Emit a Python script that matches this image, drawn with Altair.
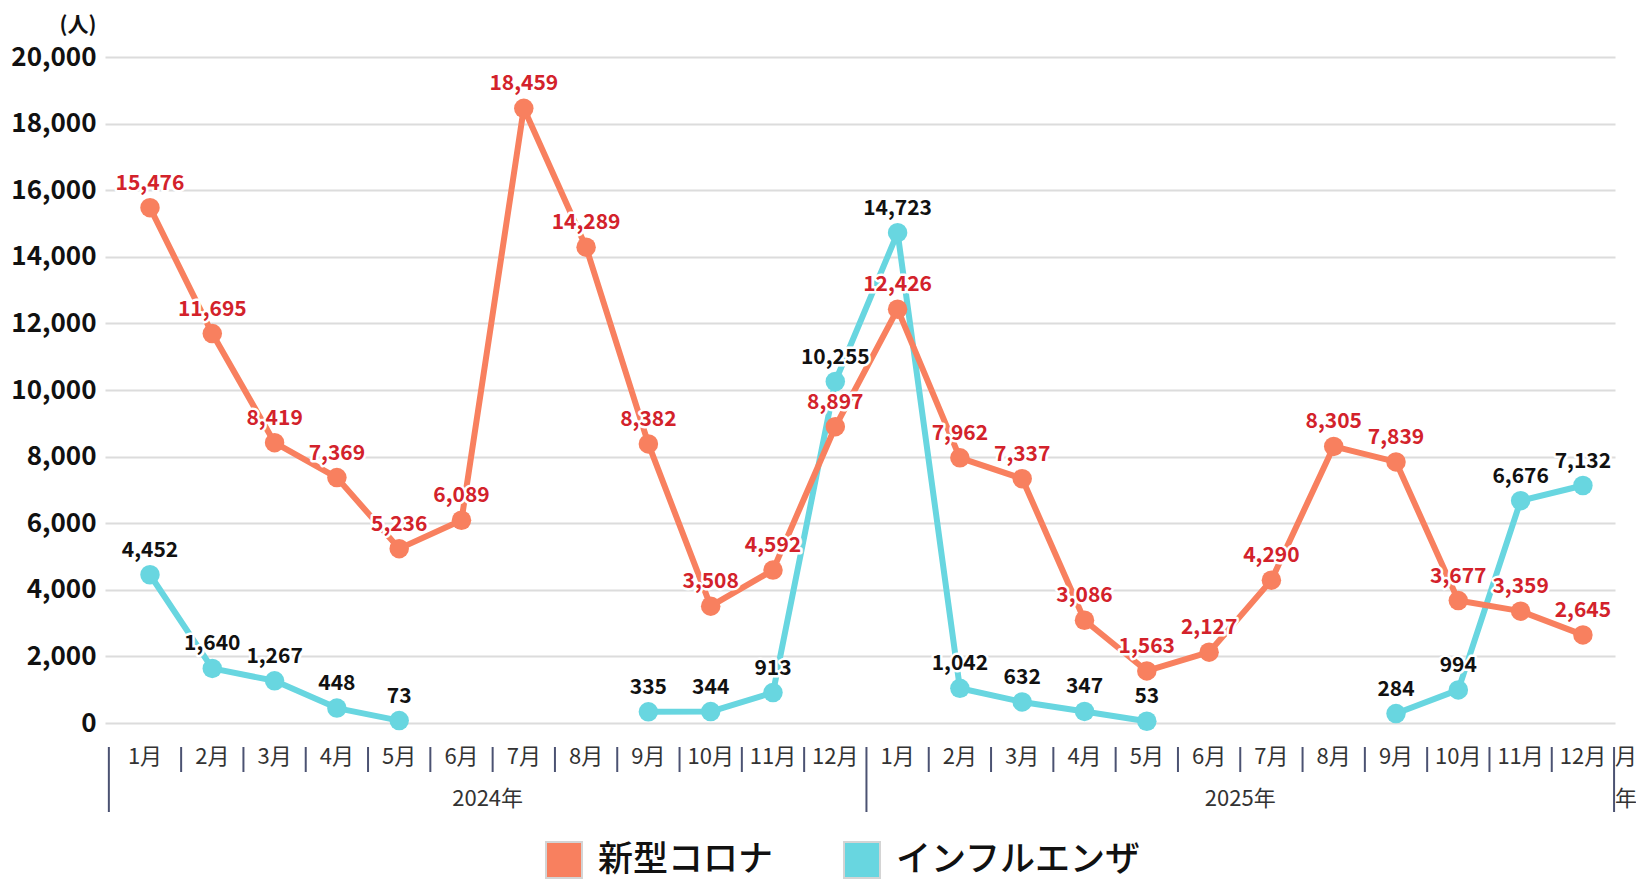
import altair as alt
import pandas as pd

FONT = "Noto Sans CJK JP"

COVID = "新型コロナ"
FLU = "インフルエンザ"

month_names = ["1月", "2月", "3月", "4月", "5月", "6月", "7月", "8月", "9月", "10月", "11月", "12月"]
years = ["2024年", "2025年"]

covid = [15476, 11695, 8419, 7369, 5236, 6089, 18459, 14289, 8382, 3508, 4592, 8897,
         12426, 7962, 7337, 3086, 1563, 2127, 4290, 8305, 7839, 3677, 3359, 2645]
flu = [4452, 1640, 1267, 448, 73, None, None, None, 335, 344, 913, 10255,
       14723, 1042, 632, 347, 53, None, None, None, 284, 994, 6676, 7132]

y_ticks = list(range(0, 20001, 2000))

COL_COVID = "#F8805F"
COL_FLU = "#68D6E0"
COL_COVID_TXT = "#D3222B"
COL_FLU_TXT = "#111111"
COL_SEP = "#4B5272"

# ---------- data frames ----------
rows = []
for name, vals, tag in [(FLU, flu, "f"), (COVID, covid, "c")]:
    seg = 0
    prev_none = False
    for i, v in enumerate(vals):
        if v is None:
            prev_none = True
            continue
        if prev_none:
            seg += 1
            prev_none = False
        rows.append({"idx": i, "value": v, "series": name, "seg": f"{tag}{seg}",
                     "label": f"{v:,}"})
df = pd.DataFrame(rows)

# month boundaries (in month-index units)
bounds = [-0.66] + [i + 0.5 for i in range(24)]
long_bounds = [-0.66, 11.5, 23.5]
df_sep = pd.DataFrame({"pos": bounds, "long": [b in long_bounds for b in bounds]})

all_months = month_names * 2
df_months = pd.DataFrame({
    "cx": [(bounds[i] + bounds[i + 1]) / 2 for i in range(24)] + [23.69],
    "label": all_months + ["月"],
})
df_years = pd.DataFrame({
    "cx": [(long_bounds[0] + long_bounds[1]) / 2, (long_bounds[1] + long_bounds[2]) / 2, 23.69],
    "label": years + ["年"],
})

# ---------- encodings ----------
xscale = alt.Scale(domain=[-0.722, 23.515], nice=False, zero=False)
x_enc = alt.X("idx:Q", scale=xscale, axis=None)
y_enc = alt.Y(
    "value:Q",
    scale=alt.Scale(domain=[0, 20000], nice=False),
    axis=alt.Axis(
        values=y_ticks, format=",d", grid=True, gridColor="#dcdcdc", gridWidth=2,
        domain=False, ticks=False, labelFont=FONT, labelFontSize=26,
        labelFontWeight="bold", labelColor="#111111", labelPadding=9,
        title="(人)", titleAngle=0, titleAlign="right", titleBaseline="middle",
        titleX=-9, titleY=-32, titleFont=FONT, titleFontSize=21,
        titleFontWeight="bold", titleColor="#111111",
    ),
)

base = alt.Chart(df)

line_flu = base.transform_filter(alt.datum.series == FLU).mark_line(
    color=COL_FLU, strokeWidth=6, strokeJoin="round", strokeCap="round"
).encode(x=x_enc, y=y_enc, detail="seg:N")

line_covid = base.transform_filter(alt.datum.series == COVID).mark_line(
    color=COL_COVID, strokeWidth=6, strokeJoin="round", strokeCap="round"
).encode(x=x_enc, y=y_enc, detail="seg:N")

points = base.mark_circle(size=380, opacity=1).encode(
    x=x_enc, y=y_enc,
    color=alt.Color(
        "series:N",
        scale=alt.Scale(domain=[COVID, FLU], range=[COL_COVID, COL_FLU]),
        legend=alt.Legend(
            orient="none", legendX=440, legendY=784, direction="horizontal",
            title=None, symbolType="square", symbolSize=1296,
            symbolStrokeColor="#d4d4d4", symbolStrokeWidth=2, symbolOpacity=1,
            labelFont=FONT, labelFontSize=35, labelFontWeight=500,
            labelColor="#111111", labelOffset=15, columnPadding=66,
            labelLimit=500,
        ),
    ),
)

def labels(series, color):
    src = base.transform_filter(alt.datum.series == series)
    halo = src.mark_text(
        font=FONT, fontSize=21, fontWeight="bold", dy=-24, baseline="middle",
        stroke="white", strokeWidth=5, strokeJoin="round", color="white",
    ).encode(x=x_enc, y=y_enc, text="label:N")
    txt = src.mark_text(
        font=FONT, fontSize=21, fontWeight="bold", dy=-24, baseline="middle",
        color=color,
    ).encode(x=x_enc, y=y_enc, text="label:N")
    return halo, txt

flu_halo, flu_txt = labels(FLU, COL_FLU_TXT)
cov_halo, cov_txt = labels(COVID, COL_COVID_TXT)

sep_base = alt.Chart(df_sep)
sep_short = sep_base.transform_filter(~alt.datum.long).mark_rule(
    color=COL_SEP, strokeWidth=2
).encode(x=alt.X("pos:Q", scale=xscale, axis=None), y=alt.value(690), y2=alt.value(715))
sep_long = sep_base.transform_filter(alt.datum.long).mark_rule(
    color=COL_SEP, strokeWidth=2
).encode(x=alt.X("pos:Q", scale=xscale, axis=None), y=alt.value(690), y2=alt.value(755))

month_txt = alt.Chart(df_months).mark_text(
    font=FONT, fontSize=22, color="#333333", baseline="middle"
).encode(x=alt.X("cx:Q", scale=xscale, axis=None), y=alt.value(700), text="label:N")

year_txt = alt.Chart(df_years).mark_text(
    font=FONT, fontSize=22, color="#333333", baseline="middle"
).encode(x=alt.X("cx:Q", scale=xscale, axis=None), y=alt.value(742), text="label:N")

chart = alt.layer(
    sep_short, sep_long, month_txt, year_txt,
    line_flu, line_covid, points,
    flu_halo, cov_halo, flu_txt, cov_txt,
).properties(
    width=1510, height=666,
    autosize=alt.AutoSizeParams(type="none"),
    padding={"left": 97, "top": 49, "right": 21, "bottom": 157},
    background="white",
).configure_view(stroke=None)

chart.save("out.html", embed_options={"renderer": "svg", "actions": False})
